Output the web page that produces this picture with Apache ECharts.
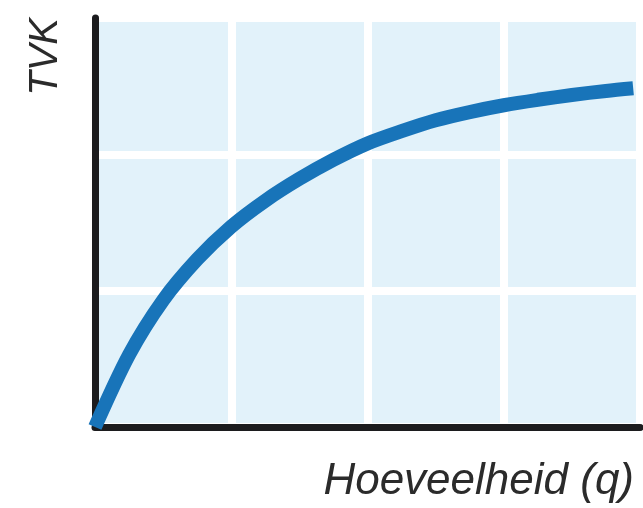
<!DOCTYPE html>
<html>
<head>
<meta charset="utf-8">
<script src="https://cdn.jsdelivr.net/npm/echarts@6/dist/echarts.min.js"></script>
<style>
  html, body { margin: 0; padding: 0; background: #ffffff; }
  #chart { width: 643px; height: 508px; }
</style>
</head>
<body>
<div id="chart"></div>
<script>
// Totale volumekosten (TVK) as a function of quantity (q)
const quantity = [0, 0.25, 0.5, 0.75, 1.0, 1.25, 1.5, 1.75, 2.0, 2.25, 2.5, 2.75, 3.0, 3.25, 3.5, 3.75, 3.95];
const tvk      = [0, 0.53, 0.93, 1.23, 1.47, 1.66, 1.82, 1.96, 2.08, 2.17, 2.25, 2.31, 2.36, 2.40, 2.435, 2.465, 2.485];
const xAxisTitle = 'Hoeveelheid (q)';
const yAxisTitle = 'TVK';

const chart = echarts.init(document.getElementById('chart'), null, { renderer: 'canvas' });

const axisLine = { show: true, lineStyle: { color: '#1c1c1e', width: 7 } };
const gridLine = { show: true, lineStyle: { color: '#ffffff', width: 8, type: 'solid' } };

chart.setOption({
  animation: false,
  grid: {
    left: 95, right: 3, top: 18, bottom: 81,
    show: true, backgroundColor: '#e2f2fa', borderWidth: 0
  },
  xAxis: {
    type: 'value', min: 0, max: 4, interval: 1,
    axisLine: axisLine, axisTick: { show: false }, axisLabel: { show: false },
    splitLine: gridLine
  },
  yAxis: {
    type: 'value', min: 0, max: 3, interval: 1,
    axisLine: axisLine, axisTick: { show: false }, axisLabel: { show: false },
    splitLine: gridLine
  },
  series: [{
    type: 'line',
    data: quantity.map((q, i) => [q, tvk[i]]),
    smooth: 0.3,
    showSymbol: false,
    lineStyle: { color: '#1874b9', width: 14, cap: 'butt' },
    z: 1
  }],
  graphic: [
    {
      type: 'text', x: 634, y: 482,
      style: {
        text: xAxisTitle, fill: '#2b2b2b',
        font: 'italic 44px "Liberation Sans", Arial, sans-serif',
        textAlign: 'right', textVerticalAlign: 'middle'
      }
    },
    {
      type: 'text', x: 46, y: 18, rotation: Math.PI / 2,
      style: {
        text: yAxisTitle, fill: '#2b2b2b',
        font: 'italic 40px "Liberation Sans", Arial, sans-serif',
        textAlign: 'right', textVerticalAlign: 'middle'
      }
    }
  ]
});
</script>
</body>
</html>
